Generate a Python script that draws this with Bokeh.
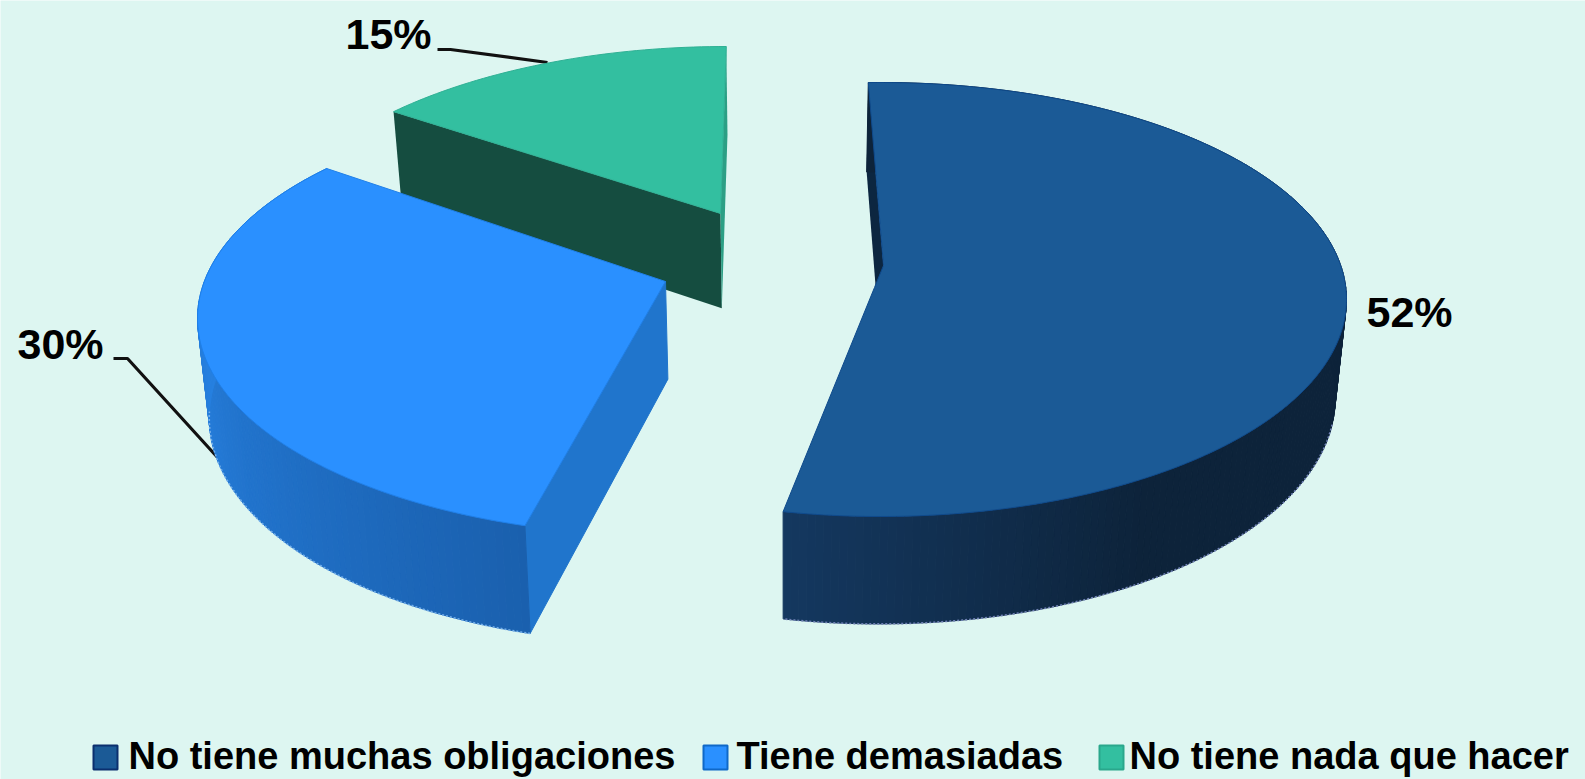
import math
from bokeh.plotting import figure
from bokeh.models import Range1d, ColumnDataSource
from bokeh.core.properties import value
from bokeh.embed import file_html
from bokeh.resources import INLINE

# --- data
categories = ["No tiene muchas obligaciones", "Tiene demasiadas", "No tiene nada que hacer"]
percents = [52, 30, 15]

# --- layout of the perspective pie (screen px of the 1585x779 page)
BG = "#DDF6F1"
RX, RY = 466, 217
centres = [(880, 299), (663, 318), (726, 263)]
tips = [[(874, 287), (883, 265)], [(665, 281)], [(720, 213)]]
start_deg = [-1.5, 197.3, 314.4]
span_scale = [1.034, 1.078, 0.844]
top_colors = ["#1B5A96", "#2A90FF", "#33BFA0"]
edge_colors = ["#0F4A8C", "#1F7FE8", "#2FB094"]
swatch_edges = ["#0B2F6E", "#0F68C8", "#2AA78C"]
wall_near = [(0x14, 0x38, 0x60), (0x1A, 0x60, 0xAE), (0x15, 0x4D, 0x40)]
wall_far = [(0x0D, 0x23, 0x3A), (0x26, 0x80, 0xE0), (0x15, 0x4D, 0x40)]
wall_range = [(192, 145), (197, 275), (300, 360)]
radial_colors = ["#0C2640", "#2075CC", "#154D40"]
rim_colors = ["#6F80B4", "#72AEEA", None]
rim_visible = [(96, 200), (190, 272), None]
label_pos = [(1409, 311), (60, 343), (388, 33)]
leaders = [None,
           ([113, 127, 218], [358, 358, 458]),
           ([437, 450, 547], [49, 49, 62])]
legend_swatch_x = [105, 715, 1111]
legend_text_x = [128, 736, 1129]
LEGEND_Y = 757
LEGEND_TEXT_Y = 755
LABEL_SIZE = "43px"
LEGEND_SIZE = "38px"


def bottom(pt):
    """Project a point of the top face on to the bottom face."""
    x, y = pt
    return x + (785 - x) * 0.02, y + 86 + 0.0415 * y


def arc_point(c, deg):
    a = math.radians(deg)
    return c[0] + RX * math.sin(a), c[1] - RY * math.cos(a)


def mix(i, t):
    t = max(0.0, min(1.0, t))
    rgb = [round(n + (f - n) * t) for n, f in zip(wall_near[i], wall_far[i])]
    return "#%02x%02x%02x" % tuple(rgb)


p = figure(width=1585, height=779, x_range=Range1d(0, 1585), y_range=Range1d(779, 0),
           output_backend="svg", toolbar_location=None, min_border=0,
           background_fill_color=BG, border_fill_color=BG, outline_line_color=None)
p.axis.visible = False
p.grid.visible = False

# leader lines sit beneath the slices
for lead in leaders:
    if lead:
        p.line(lead[0], lead[1], line_color="#111111", line_width=3.2)

# back to front: green, blue, dark blue
for i in [2, 1, 0]:
    c = centres[i]
    start = start_deg[i]
    span = percents[i] / 100 * 360 * span_scale[i]
    n = max(24, int(span))
    degs = [start + span * k / n for k in range(n + 1)]
    arc = [arc_point(c, d) for d in degs]
    low = [bottom(q) for q in arc]

    # radial walls
    tip_last = tips[i][-1]
    tip_first = tips[i][0]
    if i == 0:
        wall = [arc[0], low[0], bottom(tip_last), tip_last]
        p.patch(*zip(*wall), fill_color=radial_colors[i], line_color=None)
    if i == 1:
        wall = [tip_first, arc[0], low[0], bottom(tip_first)]
        p.patch(*zip(*wall), fill_color=radial_colors[i], line_color=radial_colors[i])
    if i == 2:
        wall = [tip_first, arc[0], low[0], bottom(tip_first)]
        p.patch(*zip(*wall), fill_color=radial_colors[i], line_color=None)
        side = [tip_first, arc[-1], low[-1], bottom(tip_first)]
        p.patch(*zip(*side), fill_color="#2C9F85", line_color=None)

    # outer wall, drawn in narrow bands for its shading
    xs, ys, cols = [], [], []
    r0, r1 = wall_range[i]
    if i != 2:
        for k in range(n):
            quad = [arc[k], arc[k + 1], low[k + 1], low[k]]
            xs.append([q[0] for q in quad])
            ys.append([q[1] for q in quad])
            cols.append(mix(i, (degs[k] - r0) / (r1 - r0)))
        p.patches("xs", "ys", fill_color="cols", line_color="cols", line_width=1,
                  source=ColumnDataSource(dict(xs=xs, ys=ys, cols=cols)))
        if rim_colors[i]:
            lo, hi = rim_visible[i]
            rim = [q for q, d in zip(low, degs) if lo <= d <= hi]
            p.line([q[0] for q in rim], [q[1] for q in rim], line_color=rim_colors[i],
                   line_width=1.6, line_dash="2 2")

    # top face
    face = arc + tips[i]
    p.patch([q[0] for q in face], [q[1] for q in face], fill_color=top_colors[i],
            line_color=edge_colors[i], line_width=1)

# percentage labels
p.text([q[0] for q in label_pos], [q[1] for q in label_pos],
       text=[f"{v}%" for v in percents], text_font=value("Liberation Sans"),
       text_font_style="bold", text_font_size=LABEL_SIZE, text_color="#000000",
       text_align="center", text_baseline="middle")

# legend
p.rect(legend_swatch_x, [LEGEND_Y] * 3, width=24, height=24, fill_color=top_colors,
       line_color=swatch_edges, line_width=2)
p.text(legend_text_x, [LEGEND_TEXT_Y] * 3, text=categories, text_font=value("Liberation Sans"),
       text_font_style="bold", text_font_size=LEGEND_SIZE, text_color="#000000",
       text_align="left", text_baseline="middle")

open("out.html", "w").write(file_html(p, INLINE))
